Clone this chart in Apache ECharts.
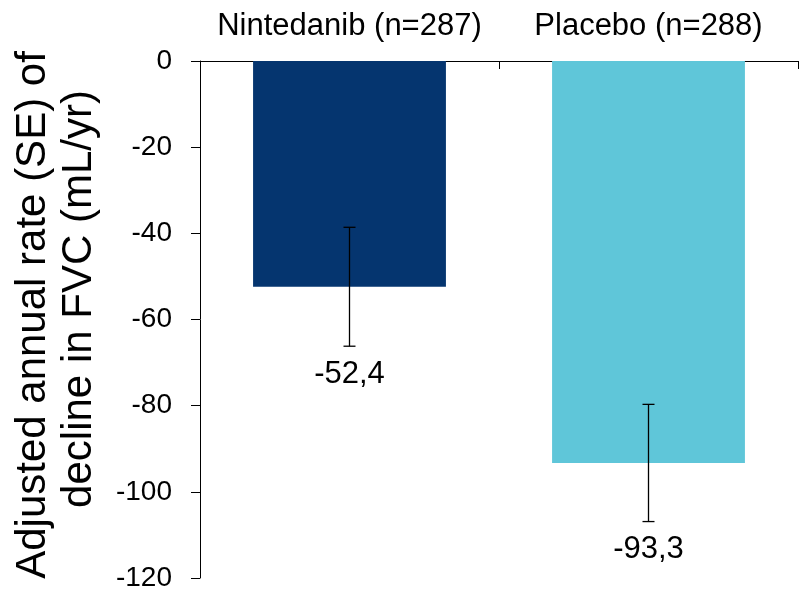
<!DOCTYPE html>
<html>
<head>
<meta charset="utf-8">
<script src="https://cdn.jsdelivr.net/npm/echarts@6/dist/echarts.min.js"></script>
<style>html,body{margin:0;padding:0;background:#fff;}#c{width:800px;height:597px;}</style>
</head>
<body>
<div id="c"></div>
<script>
var categories = ['Nintedanib (n=287)', 'Placebo (n=288)'];
var values = [-52.4, -93.3];
var stdErr = [13.8, 13.6];
var barColors = ['#05356F', '#5FC6D9'];
var yTitleLines = ['Adjusted annual rate (SE) of', 'decline in FVC (mL/yr)'];

var FONT = '"Liberation Sans", Arial, sans-serif';
var chart = echarts.init(document.getElementById('c'), null, {renderer: 'canvas'});

function fmt(v) { return String(v.toFixed(1)).replace('.', ','); }

var errData = values.map(function (v, i) { return [i, v, v + stdErr[i], v - stdErr[i]]; });

chart.setOption({
  animation: false,
  backgroundColor: '#fff',
  grid: {left: 200, right: 2, top: 61, bottom: 19, containLabel: false},
  xAxis: {
    type: 'category',
    data: categories,
    position: 'top',
    axisLine: {show: true, lineStyle: {color: '#000', width: 1}},
    axisTick: {show: true, inside: true, interval: 0, length: 8, alignWithLabel: false, lineStyle: {color: '#000'}},
    axisLabel: {color: '#000', fontSize: 31, fontFamily: FONT, margin: 19, interval: 0, hideOverlap: false},
    splitLine: {show: false}
  },
  yAxis: {
    type: 'value',
    min: -120, max: 0, interval: 20,
    axisLine: {show: true, lineStyle: {color: '#000', width: 1}},
    axisTick: {show: true, inside: false, length: 9, lineStyle: {color: '#000'}},
    axisLabel: {color: '#000', fontSize: 28, fontFamily: FONT, margin: 28},
    splitLine: {show: false}
  },
  graphic: [
    {type: 'text', rotation: Math.PI / 2, x: 33, y: 315,
     style: {text: yTitleLines[0], font: '42px ' + FONT, fill: '#000', align: 'center', verticalAlign: 'middle'}},
    {type: 'text', rotation: Math.PI / 2, x: 79, y: 299,
     style: {text: yTitleLines[1], font: '42px ' + FONT, fill: '#000', align: 'center', verticalAlign: 'middle'}}
  ],
  series: [
    {
      type: 'bar',
      barWidth: '64.5%',
      data: values.map(function (v, i) { return {value: v, itemStyle: {color: barColors[i]}}; }),
      label: {show: false}
    },
    {
      type: 'custom',
      data: errData,
      z: 10,
      renderItem: function (params, api) {
        var x = api.value(0);
        var hi = api.coord([x, api.value(2)]);
        var lo = api.coord([x, api.value(3)]);
        var cap = 6;
        var st = {stroke: '#000', lineWidth: 1.3};
        return {
          type: 'group',
          children: [
            {type: 'line', shape: {x1: hi[0], y1: hi[1], x2: lo[0], y2: lo[1]}, style: st},
            {type: 'line', shape: {x1: hi[0] - cap, y1: hi[1], x2: hi[0] + cap, y2: hi[1]}, style: st},
            {type: 'line', shape: {x1: lo[0] - cap, y1: lo[1], x2: lo[0] + cap, y2: lo[1]}, style: st},
            {type: 'text', x: lo[0], y: lo[1] + 28,
             style: {text: fmt(api.value(1)), font: '31px ' + FONT, fill: '#000', align: 'center', verticalAlign: 'middle'}}
          ]
        };
      }
    }
  ]
});
</script>
</body>
</html>
